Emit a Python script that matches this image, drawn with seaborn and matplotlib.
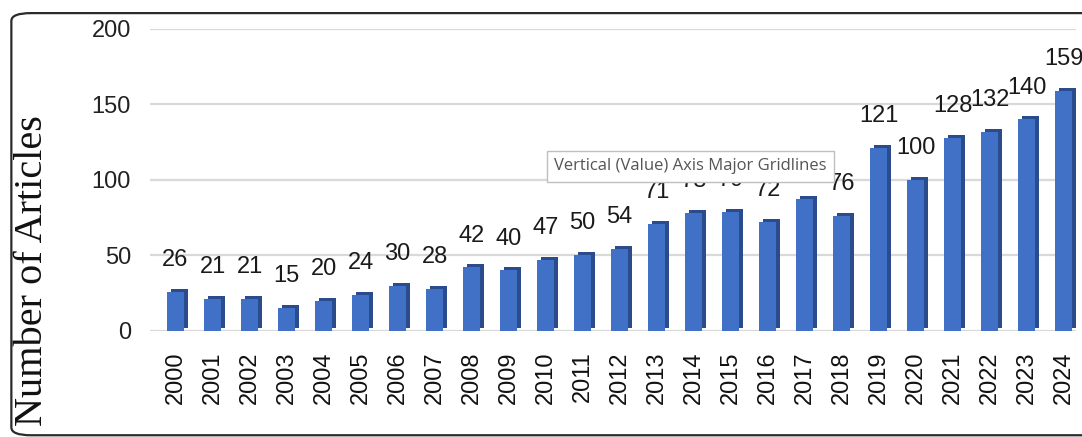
import matplotlib
matplotlib.use("Agg")
import matplotlib.pyplot as plt
import matplotlib.transforms as mtransforms
from matplotlib.patches import FancyBboxPatch
import seaborn as sns
import pandas as pd

# === data ===
years = [str(y) for y in range(2000, 2025)]
articles = [26, 21, 21, 15, 20, 24, 30, 28, 42, 40, 47, 50, 54, 71,
            78, 79, 72, 87, 76, 121, 100, 128, 132, 140, 159]
yticks = [0, 50, 100, 150, 200]

df = pd.DataFrame({"year": years, "articles": articles})

sns.set_style("white")
plt.rcParams["font.family"] = ["Liberation Sans", "DejaVu Sans"]

fig = plt.figure(figsize=(10.82, 4.37), dpi=100)
ax = fig.add_axes([0.139, 0.243, 0.855, 0.691])

# depth of the bars: darker copy shifted a few pixels up/right
sns.barplot(data=df, x="year", y="articles", color="#2A4C8C",
            saturation=1, width=0.46, linewidth=0, ax=ax, zorder=2)
shift = mtransforms.ScaledTranslation(4 / 100, 3 / 100, fig.dpi_scale_trans)
for p in ax.patches:
    p.set_transform(ax.transData + shift)

# front face
sns.barplot(data=df, x="year", y="articles", color="#4171C6",
            saturation=1, width=0.46, linewidth=0, ax=ax, zorder=3)
front = ax.containers[-1]
ax.bar_label(front, labels=[str(v) for v in articles], padding=15,
             fontsize=17, color="#1a1a1a", zorder=4)

ax.set_ylim(0, 200)
ax.set_xlim(-0.68, 24.32)
ax.set_yticks(yticks)
ax.set_yticklabels([str(t) for t in yticks], fontsize=17, color="#222222")
ax.tick_params(axis="x", labelrotation=90, labelsize=17, labelcolor="#111111",
               length=0, pad=15)
ax.tick_params(axis="y", length=0, pad=14)
ax.yaxis.grid(True, color="#d9d9d9", linewidth=1.6, zorder=0)
ax.set_axisbelow(True)
for s in ax.spines.values():
    s.set_visible(False)
ax.set_xlabel("")
ax.set_ylabel("")

fig.text(0.030, 0.38, "Number of Articles", rotation=90, ha="center",
         va="center", fontsize=29, family="Liberation Serif", color="#111111")

# rounded frame around the chart (left and top edges visible)
frame = FancyBboxPatch((0.0105, 0.004), 1.2, 0.966,
                       boxstyle="round,pad=0,rounding_size=0.018",
                       transform=fig.transFigure, facecolor="none",
                       edgecolor="#2b2b2b", linewidth=1.6, zorder=5)
fig.patches.append(frame)

# tooltip from the chart editor
fig.text(0.638, 0.62, "Vertical (Value) Axis Major Gridlines", ha="center",
         va="center", fontsize=12, family="Open Sans", color="#555555", zorder=10,
         bbox=dict(boxstyle="square,pad=0.45", facecolor="white",
                   edgecolor="#bfbfbf", linewidth=1))

fig.savefig("out.png", dpi=100)
